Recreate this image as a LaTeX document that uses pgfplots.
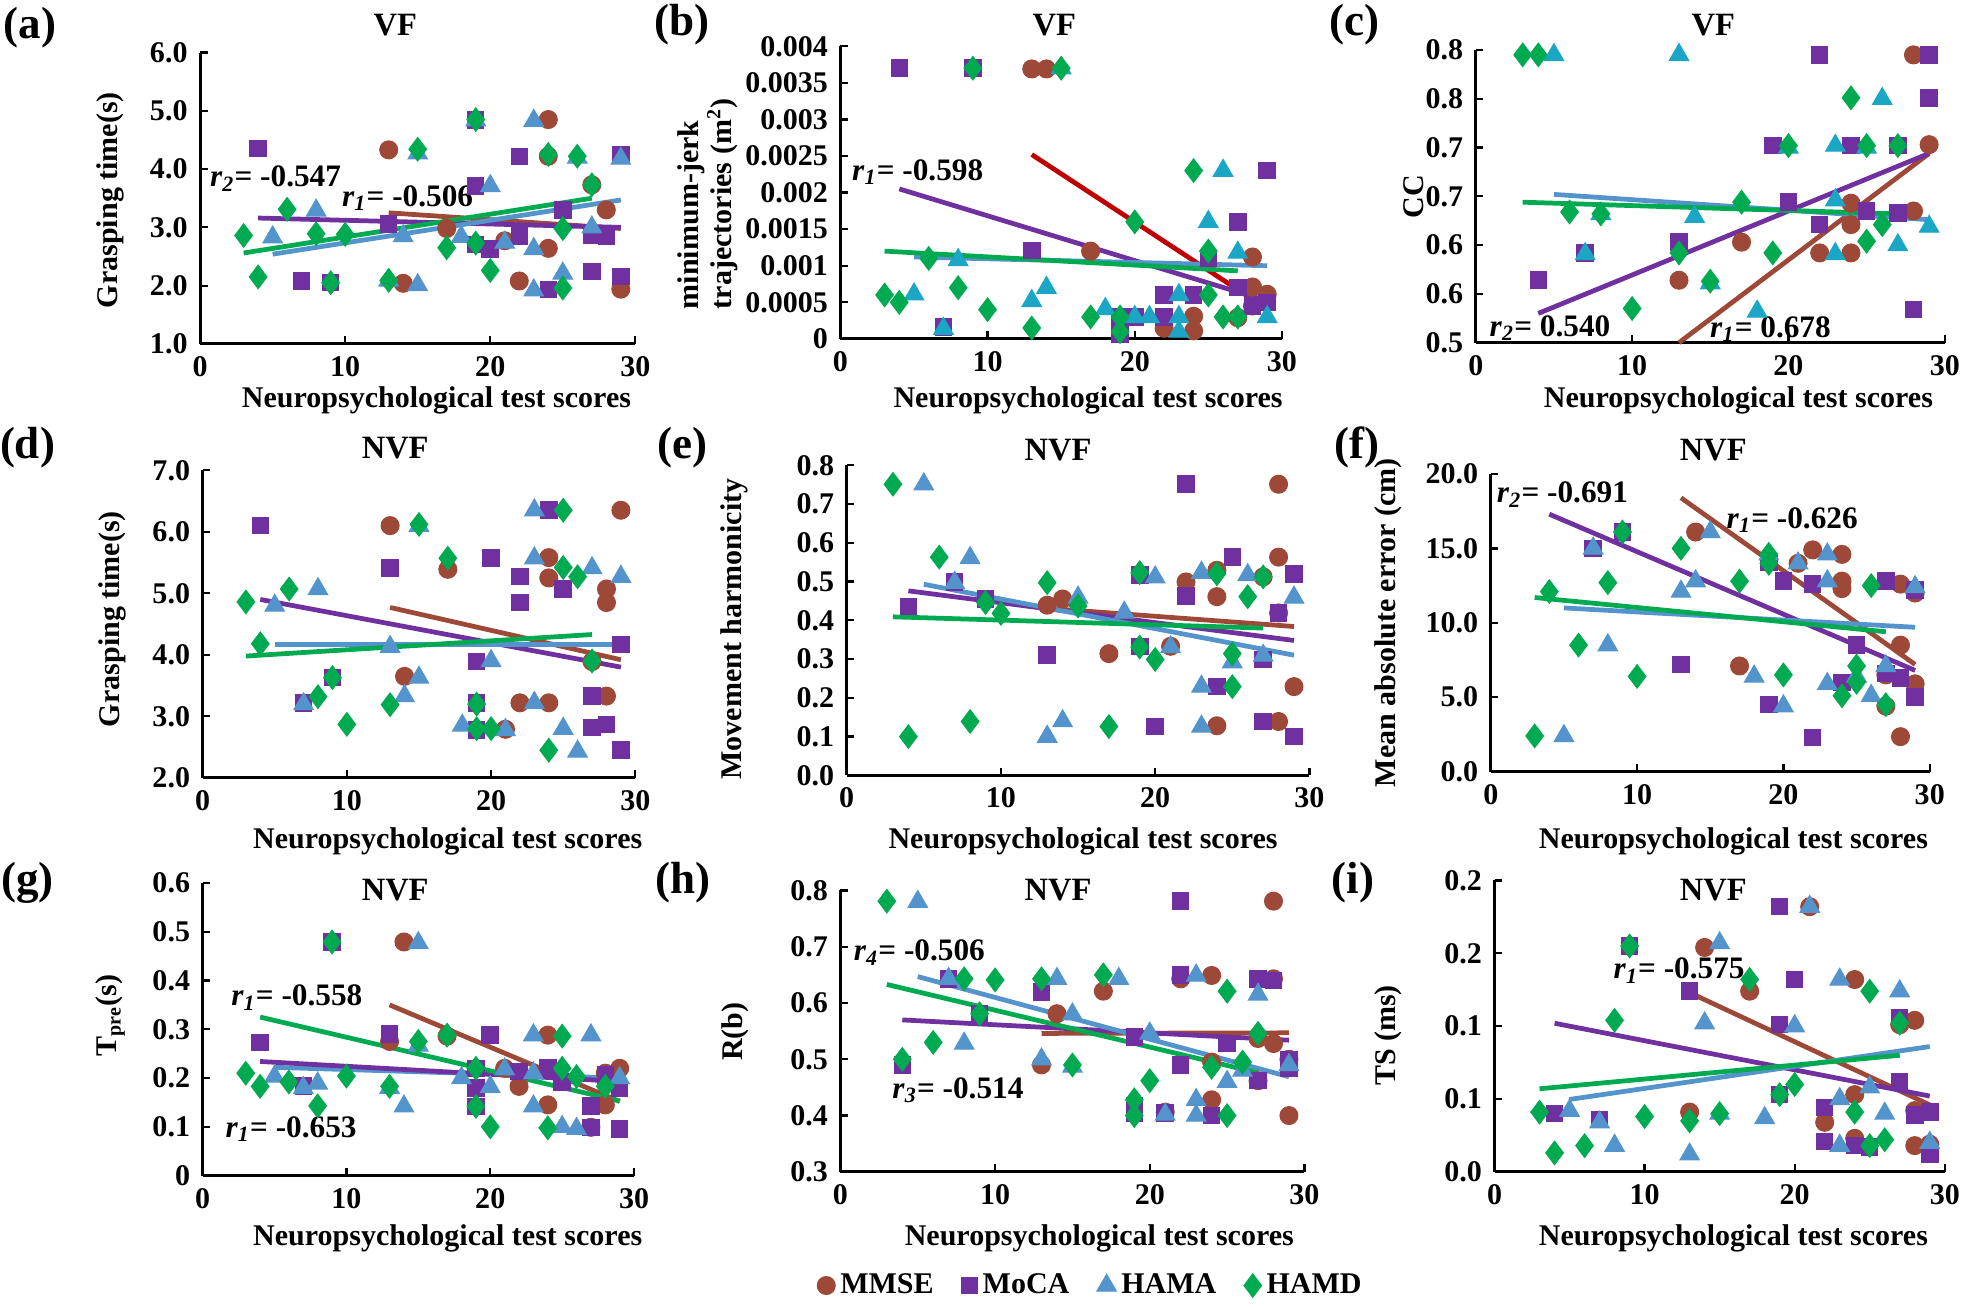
\documentclass[border=0pt]{standalone}
\usepackage{fontspec}
\setmainfont{Liberation Serif}
\usepackage{pgfplots}
\pgfplotsset{compat=1.18}

\definecolor{cmmse}{RGB}{158,72,56}
\definecolor{cmoca}{RGB}{112,48,160}
\definecolor{chama}{RGB}{84,148,204}
\definecolor{chamat}{RGB}{26,166,196}
\definecolor{chamd}{RGB}{0,170,80}
\definecolor{ctred}{RGB}{192,0,0}

\pgfplotsset{
  panel/.style={scale only axis, anchor=south west, clip=false,
    axis lines*=left, axis line style={-, line width=1.2pt},
    xmin=0, xmax=30, xtick={0,10,20,30}, xticklabels={0,10,20,30},
    tick align=inside, major tick length=3pt,
    every tick/.style={black, line width=0.9pt},
    tick label style={font=\fontsize{12}{13}\selectfont\bfseries},
    xticklabel style={yshift=-1.5pt},
    yticklabel style={xshift=-1.5pt}},
  mmse/.style={only marks, mark=*, mark size=3.6pt, color=cmmse},
  moca/.style={only marks, mark=square*, mark size=3.3pt, color=cmoca},
  hama/.style={only marks, mark=triangle*, mark size=4.5pt, color=chama},
  hamd/.style={only marks, mark=diamond*, mark size=4.7pt, color=chamd},
  trend/.style={no marks, line width=1.9pt, forget plot},
}
\newcommand{\rlab}[2]{\textit{r}\textsubscript{\textit{#1}}= #2}
\tikzset{rl/.style={font=\fontsize{12.5}{13}\selectfont\bfseries, inner sep=0pt}}

\begin{document}
\begin{tikzpicture}
\useasboundingbox (0,0) rectangle (784pt,522.5pt);

% ---------- (a)
\begin{axis}[panel, at={(80pt,385pt)}, width=174pt, height=116.5pt,
  ymin=1, ymax=6, ytick={1,2,3,4,5,6}, yticklabels={1.0,2.0,3.0,4.0,5.0,6.0}]
\addplot[mmse] coordinates {(13,4.33) (14,2.04) (17,2.98) (21,2.77) (22,2.08) (24,4.85) (24,4.22) (24,2.64) (27,3.73) (28,3.30) (29,1.94)};
\addplot[moca] coordinates {(4,4.35) (7,2.08) (9,2.05) (13,3.06) (19,4.84) (19,3.71) (19,2.71) (20,2.63) (22,4.22) (22,2.85) (24,1.93) (25,3.30) (27,2.86) (27,2.24) (28,2.85) (29,4.25) (29,2.16)};
\addplot[hama] coordinates {(5,2.83) (8,3.29) (13,2.09) (14,2.85) (15,4.27) (15,2.01) (18,2.84) (19,4.84) (20,3.71) (21,2.74) (23,4.83) (23,2.63) (23,1.92) (25,2.21) (26,4.20) (27,3.00) (29,4.18)};
\addplot[hamd] coordinates {(3,2.86) (4,2.15) (6,3.31) (8,2.89) (9,2.05) (10,2.88) (13,2.09) (15,4.34) (17,2.65) (19,4.85) (19,2.73) (20,2.26) (24,4.25) (25,2.98) (25,1.96) (26,4.22) (27,3.73)};
\addplot[trend, cmmse] coordinates {(13,3.25) (29,2.98)};
\addplot[trend, cmoca] coordinates {(4,3.16) (29,3.00)};
\addplot[trend, chama] coordinates {(5,2.54) (29,3.47)};
\addplot[trend, chamd] coordinates {(3,2.56) (27,3.50)};
\node[rl] at (axis cs:5.2,3.84) {\rlab{2}{-0.547}};
\node[rl] at (axis cs:14.3,3.50) {\rlab{1}{-0.506}};
\end{axis}

% ---------- (b)
\begin{axis}[panel, at={(336pt,387pt)}, width=176.5pt, height=117pt,
  ymin=0, ymax=0.004, ytick={0,0.0005,0.001,0.0015,0.002,0.0025,0.003,0.0035,0.004},
  yticklabels={0,0.0005,0.001,0.0015,0.002,0.0025,0.003,0.0035,0.004}, scaled y ticks=false]
\addplot[mmse] coordinates {(13,0.00369) (14,0.00369) (17,0.0012) (22,0.000145) (24,0.00031) (24,0.00011) (27,0.00029) (28,0.00112) (28,0.00071) (28,0.00045) (29,0.00061)};
\addplot[moca] coordinates {(4,0.0037) (7,0.00016) (9,0.0037) (13,0.00121) (19,0.0003) (19,0.00007) (20,0.0003) (22,0.0006) (22,0.0003) (24,0.0006) (25,0.0011) (27,0.0016) (27,0.0007) (28,0.00045) (29,0.0023) (29,0.0005)};
\addplot[hama, chamat] coordinates {(5,0.00061) (7,0.00014) (8,0.00108) (13,0.00052) (14,0.0007) (15,0.0037) (18,0.00041) (20,0.0003) (21,0.0003) (23,0.0006) (23,0.0003) (23,0.0001) (25,0.0016) (26,0.0023) (27,0.00118) (29,0.0003)};
\addplot[hamd] coordinates {(3,0.0006) (4,0.0005) (6,0.0011) (8,0.0007) (9,0.0037) (10,0.0004) (13,0.00015) (15,0.0037) (17,0.0003) (19,0.0003) (19,0.0001) (20,0.0016) (24,0.0023) (25,0.0012) (25,0.0006) (26,0.0003) (27,0.0003)};
\addplot[trend, ctred] coordinates {(13,0.00252) (29,0.00041)};
\addplot[trend, cmoca] coordinates {(4,0.00205) (29,0.00052)};
\addplot[trend, chama] coordinates {(5,0.00112) (29,0.00100)};
\addplot[trend, chamd] coordinates {(3,0.00120) (27,0.00093)};
\node[rl] at (axis cs:5.25,0.00228) {\rlab{1}{-0.598}};
\end{axis}

% ---------- (c)
\begin{axis}[panel, at={(590pt,385.5pt)}, width=187.5pt, height=117pt,
  ymin=0.5, ymax=0.8, ytick={0.5,0.55,0.6,0.65,0.7,0.75,0.8},
  yticklabels={0.5,0.6,0.6,0.7,0.7,0.8,0.8}]
\addplot[mmse] coordinates {(13,0.564) (17,0.603) (22,0.592) (24,0.643) (24,0.621) (24,0.592) (28,0.795) (28,0.635) (29,0.703)};
\addplot[moca] coordinates {(4,0.564) (7,0.592) (13,0.603) (19,0.702) (20,0.644) (22,0.795) (22,0.621) (24,0.702) (25,0.635) (27,0.702) (27,0.633) (29,0.795) (29,0.751) (28,0.534)};
\addplot[hama, chamat] coordinates {(5,0.795) (7,0.591) (8,0.632) (13,0.795) (14,0.629) (15,0.561) (18,0.532) (20,0.700) (23,0.702) (23,0.646) (23,0.591) (25,0.700) (26,0.750) (27,0.600) (29,0.619)};
\addplot[hamd] coordinates {(3,0.795) (4,0.795) (6,0.634) (8,0.632) (10,0.535) (13,0.592) (15,0.563) (17,0.644) (19,0.592) (20,0.702) (24,0.751) (25,0.702) (25,0.604) (26,0.621) (27,0.702)};
\addplot[trend, cmmse] coordinates {(13,0.500) (29,0.694)};
\addplot[trend, cmoca] coordinates {(4,0.530) (29,0.694)};
\addplot[trend, chama] coordinates {(5,0.652) (29,0.626)};
\addplot[trend, chamd] coordinates {(3,0.644) (27,0.632)};
\node[rl] at (axis cs:4.75,0.515) {\rlab{2}{0.540}};
\node[rl] at (axis cs:18.85,0.514) {\rlab{1}{0.678}};
\end{axis}

% ---------- (d)
\begin{axis}[panel, at={(81pt,211.5pt)}, width=173pt, height=123pt,
  ymin=2, ymax=7, ytick={2,3,4,5,6,7}, yticklabels={2.0,3.0,4.0,5.0,6.0,7.0}]
\addplot[mmse] coordinates {(13,6.10) (14,3.65) (17,5.39) (21,2.79) (22,3.22) (24,5.58) (24,5.25) (24,3.22) (27,3.89) (28,5.07) (28,4.85) (28,3.33) (29,6.35)};
\addplot[moca] coordinates {(4,6.10) (7,3.22) (9,3.63) (13,5.41) (19,3.89) (19,3.22) (19,2.78) (20,5.57) (22,5.27) (22,4.85) (24,6.35) (25,5.07) (27,3.33) (27,2.82) (28,2.87) (29,4.17) (29,2.45)};
\addplot[hama] coordinates {(5,4.80) (7,3.20) (8,5.07) (13,4.13) (14,3.33) (15,6.10) (15,3.63) (18,2.85) (20,3.90) (21,2.78) (23,6.35) (23,5.57) (23,3.22) (25,2.80) (26,2.43) (27,5.41) (29,5.27)};
\addplot[hamd] coordinates {(3,4.86) (4,4.18) (6,5.07) (8,3.32) (9,3.63) (10,2.87) (13,3.19) (15,6.12) (17,5.57) (19,3.20) (19,2.80) (20,2.80) (24,2.45) (25,6.35) (25,5.42) (26,5.27) (27,3.90)};
\addplot[trend, cmmse] coordinates {(13,4.77) (29,3.92)};
\addplot[trend, cmoca] coordinates {(4,4.90) (29,3.80)};
\addplot[trend, chama] coordinates {(5,4.17) (29,4.17)};
\addplot[trend, chamd] coordinates {(3,3.98) (27,4.33)};
\end{axis}

% ---------- (e)
\begin{axis}[panel, at={(338.5pt,212.5pt)}, width=185pt, height=124pt,
  ymin=0, ymax=0.8, ytick={0,0.1,0.2,0.3,0.4,0.5,0.6,0.7,0.8},
  yticklabels={0.0,0.1,0.2,0.3,0.4,0.5,0.6,0.7,0.8}]
\addplot[mmse] coordinates {(13,0.439) (14,0.455) (17,0.314) (21,0.333) (22,0.499) (24,0.529) (24,0.461) (24,0.128) (27,0.512) (28,0.751) (28,0.563) (28,0.419) (28,0.139) (29,0.229)};
\addplot[moca] coordinates {(4,0.435) (7,0.499) (9,0.455) (13,0.311) (19,0.517) (19,0.333) (20,0.126) (22,0.751) (22,0.463) (24,0.229) (25,0.563) (27,0.299) (27,0.139) (28,0.419) (29,0.519) (29,0.100)};
\addplot[hama] coordinates {(5,0.751) (7,0.497) (8,0.561) (13,0.100) (14,0.140) (15,0.459) (18,0.420) (20,0.511) (21,0.331) (23,0.523) (23,0.229) (23,0.126) (25,0.292) (26,0.517) (27,0.309) (29,0.459)};
\addplot[hamd] coordinates {(3,0.751) (4,0.100) (6,0.563) (8,0.139) (9,0.446) (10,0.418) (13,0.497) (15,0.437) (17,0.126) (19,0.523) (19,0.331) (20,0.299) (24,0.520) (25,0.314) (25,0.229) (26,0.461) (27,0.512)};
\addplot[trend, cmmse] coordinates {(13,0.431) (29,0.384)};
\addplot[trend, cmoca] coordinates {(4,0.476) (29,0.348)};
\addplot[trend, chama] coordinates {(5,0.493) (29,0.310)};
\addplot[trend, chamd] coordinates {(3,0.409) (27,0.380)};
\end{axis}

% ---------- (f)
\begin{axis}[panel, at={(596pt,214pt)}, width=175.5pt, height=119pt,
  ymin=0, ymax=20, ytick={0,5,10,15,20}, yticklabels={0.0,5.0,10.0,15.0,20.0}]
\addplot[mmse] coordinates {(14,16.1) (17,7.1) (21,14.0) (22,14.9) (24,14.6) (24,12.8) (24,12.3) (27,6.5) (27,4.4) (28,12.6) (28,8.5) (28,2.35) (29,5.9) (29,12.0)};
\addplot[moca] coordinates {(7,15.0) (9,16.1) (13,7.2) (19,14.1) (19,4.5) (20,12.8) (22,12.6) (22,2.3) (24,6.0) (25,8.5) (27,12.8) (27,6.6) (28,6.3) (29,12.2) (29,5.0)};
\addplot[hama] coordinates {(5,2.4) (7,15.0) (8,8.5) (13,12.1) (14,12.8) (15,16.1) (18,6.4) (19,14.6) (20,4.4) (21,14.0) (23,14.6) (23,12.8) (23,5.9) (25,6.4) (26,5.1) (27,7.1) (29,12.4)};
\addplot[hamd] coordinates {(3,2.4) (4,12.1) (6,8.5) (8,12.7) (9,16.1) (10,6.4) (13,15.0) (17,12.8) (19,14.6) (19,14.0) (20,6.5) (24,5.1) (25,7.1) (25,6.0) (26,12.5) (27,4.5)};
\addplot[trend, cmmse] coordinates {(13,18.4) (29,7.2)};
\addplot[trend, cmoca] coordinates {(4,17.3) (29,6.8)};
\addplot[trend, chama] coordinates {(5,11.0) (29,9.7)};
\addplot[trend, chamd] coordinates {(3,11.7) (27,9.4)};
\node[rl] at (axis cs:4.9,18.6) {\rlab{2}{-0.691}};
\node[rl] at (axis cs:20.6,16.9) {\rlab{1}{-0.626}};
\end{axis}

% ---------- (g)
\begin{axis}[panel, at={(81pt,52.5pt)}, width=172.5pt, height=117pt,
  ymin=0, ymax=0.6, ytick={0,0.1,0.2,0.3,0.4,0.5,0.6}, yticklabels={0,0.1,0.2,0.3,0.4,0.5,0.6}]
\addplot[mmse] coordinates {(13,0.275) (14,0.479) (17,0.286) (21,0.220) (22,0.183) (24,0.288) (24,0.145) (27,0.099) (28,0.210) (28,0.145) (29,0.220)};
\addplot[moca] coordinates {(4,0.273) (7,0.184) (9,0.479) (13,0.290) (19,0.220) (19,0.180) (19,0.142) (20,0.288) (22,0.213) (24,0.222) (25,0.192) (27,0.143) (27,0.099) (28,0.206) (29,0.179) (29,0.096)};
\addplot[hama] coordinates {(5,0.203) (7,0.180) (8,0.189) (13,0.180) (14,0.142) (15,0.477) (15,0.267) (18,0.200) (20,0.182) (21,0.218) (23,0.288) (23,0.210) (23,0.142) (25,0.100) (26,0.096) (27,0.288) (29,0.200)};
\addplot[hamd] coordinates {(3,0.210) (4,0.183) (6,0.192) (8,0.143) (9,0.479) (10,0.204) (13,0.183) (15,0.275) (17,0.288) (19,0.220) (19,0.142) (20,0.100) (24,0.098) (25,0.286) (25,0.220) (26,0.203) (28,0.183)};
\addplot[trend, cmmse] coordinates {(13,0.350) (29,0.152)};
\addplot[trend, chama] coordinates {(5,0.222) (29,0.200)};
\addplot[trend, cmoca] coordinates {(4,0.234) (29,0.193)};
\addplot[trend, chamd] coordinates {(4,0.325) (29,0.153)};
\node[rl] at (axis cs:6.55,0.365) {\rlab{1}{-0.558}};
\node[rl] at (axis cs:6.15,0.095) {\rlab{1}{-0.653}};
\end{axis}

% ---------- (h)
\begin{axis}[panel, at={(336pt,54pt)}, width=185.5pt, height=112.5pt,
  ymin=0.3, ymax=0.8, ytick={0.3,0.4,0.5,0.6,0.7,0.8}, yticklabels={0.3,0.4,0.5,0.6,0.7,0.8},
  legend columns=4,
  legend style={at={(0.542,-0.404)}, anchor=center, draw=none, fill=none,
    font=\fontsize{12}{13}\selectfont\bfseries,
    /tikz/every even column/.append style={column sep=9pt}},
  legend cell align=left]
\addplot[mmse] coordinates {(13,0.490) (14,0.581) (17,0.621) (21,0.406) (22,0.643) (24,0.649) (24,0.428) (24,0.495) (27,0.537) (27,0.462) (28,0.781) (28,0.643) (28,0.528) (29,0.400) (29,0.500)};
\addlegendentry{MMSE}
\addplot[moca] coordinates {(4,0.490) (7,0.643) (9,0.581) (13,0.620) (19,0.417) (19,0.405) (19,0.540) (21,0.405) (22,0.650) (22,0.781) (22,0.490) (24,0.400) (25,0.528) (27,0.643) (27,0.462) (28,0.640) (29,0.500) (29,0.484)};
\addlegendentry{MoCA}
\addplot[hama] coordinates {(5,0.780) (7,0.643) (8,0.528) (13,0.500) (14,0.643) (15,0.580) (15,0.487) (18,0.643) (20,0.546) (21,0.402) (23,0.649) (23,0.428) (23,0.400) (25,0.460) (26,0.480) (27,0.615) (29,0.490)};
\addlegendentry{HAMA}
\addplot[hamd] coordinates {(3,0.781) (4,0.500) (6,0.530) (8,0.643) (9,0.581) (10,0.641) (13,0.643) (15,0.490) (17,0.650) (19,0.428) (19,0.400) (20,0.462) (24,0.486) (25,0.621) (25,0.400) (26,0.495) (27,0.546)};
\addlegendentry{HAMD}
\addplot[trend, cmmse] coordinates {(13,0.546) (29,0.547)};
\addplot[trend, cmoca] coordinates {(4,0.570) (29,0.534)};
\addplot[trend, chama] coordinates {(5,0.647) (29,0.469)};
\addplot[trend, chamd] coordinates {(3,0.633) (27,0.476)};
\node[rl] at (axis cs:5.1,0.69) {\rlab{4}{-0.506}};
\node[rl] at (axis cs:7.6,0.445) {\rlab{3}{-0.514}};
\end{axis}

% ---------- (i)
\begin{axis}[panel, at={(597.5pt,54pt)}, width=180pt, height=116.5pt,
  ymin=0, ymax=0.2, ytick={0,0.05,0.1,0.15,0.2}, yticklabels={0.0,0.1,0.1,0.2,0.2}]
\addplot[mmse] coordinates {(13,0.041) (14,0.154) (17,0.124) (21,0.182) (22,0.034) (24,0.132) (24,0.053) (24,0.023) (27,0.101) (28,0.104) (28,0.042) (28,0.018) (29,0.019)};
\addplot[moca] coordinates {(4,0.040) (7,0.036) (9,0.155) (13,0.124) (19,0.182) (19,0.101) (19,0.053) (20,0.132) (22,0.044) (22,0.021) (24,0.018) (25,0.017) (27,0.062) (27,0.106) (28,0.039) (29,0.041) (29,0.012)};
\addplot[hama] coordinates {(5,0.042) (7,0.034) (8,0.018) (13,0.012) (14,0.102) (15,0.157) (15,0.040) (18,0.037) (20,0.100) (21,0.182) (23,0.132) (23,0.050) (23,0.018) (25,0.058) (26,0.040) (27,0.124) (29,0.020)};
\addplot[hamd] coordinates {(3,0.041) (4,0.013) (6,0.018) (8,0.104) (9,0.155) (10,0.038) (13,0.035) (15,0.040) (17,0.132) (19,0.053) (20,0.060) (24,0.041) (25,0.124) (25,0.018) (26,0.022) (27,0.102)};
\addplot[trend, cmmse] coordinates {(13,0.123) (29,0.046)};
\addplot[trend, cmoca] coordinates {(4,0.102) (29,0.052)};
\addplot[trend, chama] coordinates {(5,0.0497) (29,0.086)};
\addplot[trend, chamd] coordinates {(3,0.057) (27,0.080)};
\node[rl] at (axis cs:12.3,0.138) {\rlab{1}{-0.575}};
\end{axis}

% ---------- titles, panel letters, axis labels
\begin{scope}[every node/.style={font=\fontsize{13}{14}\selectfont\bfseries, inner sep=0pt}]
\node at (158pt,512.5pt) {VF};
\node at (421.5pt,512.5pt) {VF};
\node at (685pt,512.5pt) {VF};
\node at (158pt,343.5pt) {NVF};
\node at (423pt,342.5pt) {NVF};
\node at (685pt,342.5pt) {NVF};
\node at (158pt,166.5pt) {NVF};
\node at (423pt,166.5pt) {NVF};
\node at (685pt,166.5pt) {NVF};
\end{scope}
\begin{scope}[every node/.style={font=\fontsize{18}{18}\selectfont\bfseries, inner sep=0pt}]
\node at (12pt,511.5pt) {(a)};
\node at (272.5pt,512.5pt) {(b)};
\node at (541.5pt,512.5pt) {(c)};
\node at (11pt,343.5pt) {(d)};
\node at (273pt,343.5pt) {(e)};
\node at (542.5pt,343.5pt) {(f)};
\node at (11pt,169.5pt) {(g)};
\node at (273pt,169.5pt) {(h)};
\node at (541pt,169.5pt) {(i)};
\end{scope}
\begin{scope}[every node/.style={font=\fontsize{12}{13}\selectfont\bfseries, inner sep=0pt}]
\node[rotate=90] at (44pt,442.5pt) {Grasping time(s)};
\node[rotate=90, align=left] at (283pt,441pt) {minimum-jerk\\trajectories (m\textsuperscript{2})};
\node[rotate=90] at (565pt,444pt) {CC};
\node[rotate=90] at (45pt,275pt) {Grasping time(s)};
\node[rotate=90] at (293.5pt,271pt) {Movement harmonicity};
\node[rotate=90] at (555pt,273.5pt) {Mean absolute error (cm)};
\node[rotate=90] at (44pt,116.5pt) {T\textsubscript{pre}(s)};
\node[rotate=90] at (294pt,110pt) {R(b)};
\node[rotate=90] at (555pt,108.5pt) {TS (ms)};
\node at (174.5pt,362.5pt) {Neuropsychological test scores};
\node at (435pt,362.5pt) {Neuropsychological test scores};
\node at (695pt,362.5pt) {Neuropsychological test scores};
\node at (179pt,186pt) {Neuropsychological test scores};
\node at (433pt,186pt) {Neuropsychological test scores};
\node at (693pt,186pt) {Neuropsychological test scores};
\node at (179pt,27.5pt) {Neuropsychological test scores};
\node at (439.5pt,27.5pt) {Neuropsychological test scores};
\node at (693pt,27.5pt) {Neuropsychological test scores};
\end{scope}
\end{tikzpicture}
\end{document}
